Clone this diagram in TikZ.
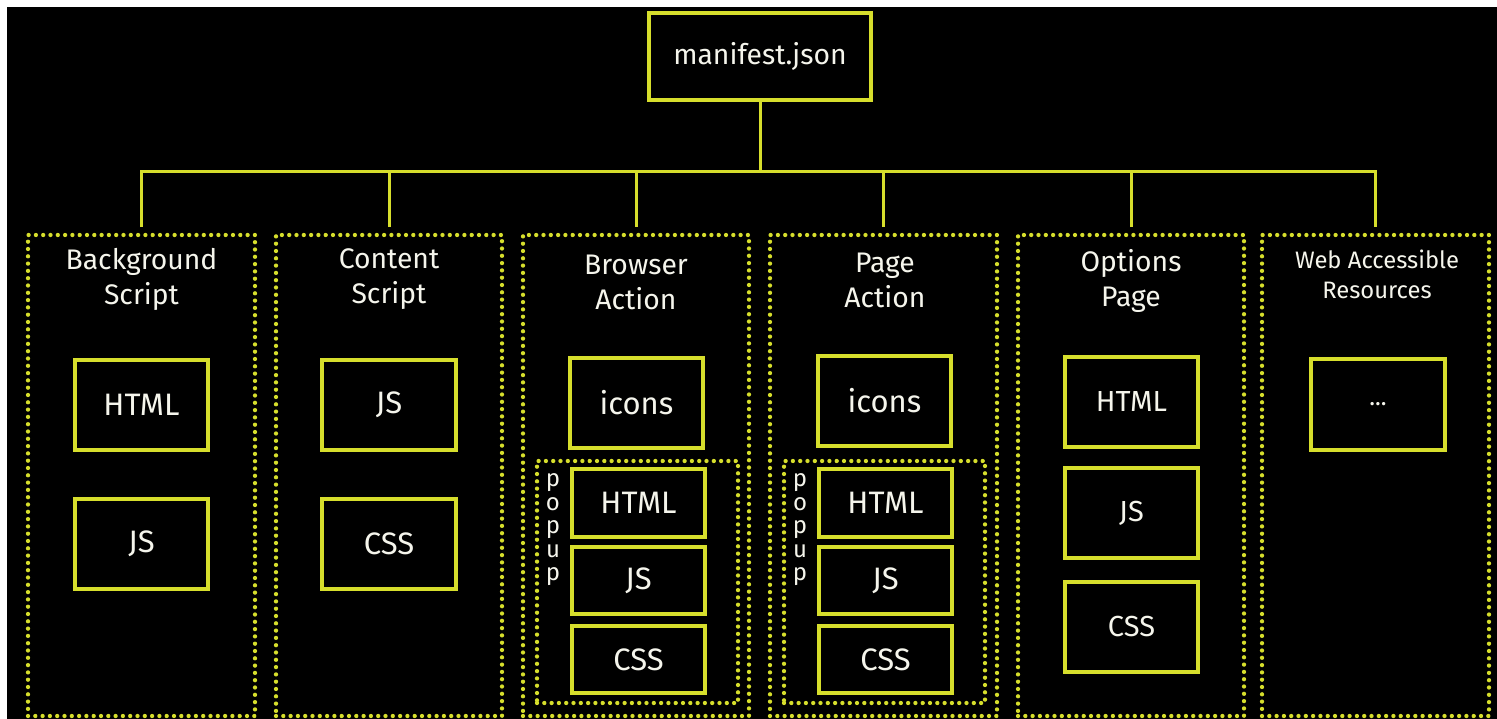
\documentclass[tikz,border=0pt]{standalone}
\usepackage{fontspec}
\setmainfont{Fira Sans}
\definecolor{ylw}{RGB}{214,222,44}
\definecolor{txt}{RGB}{245,245,236}
\begin{document}
\begin{tikzpicture}[x=1pt,y=-1pt,
  solidbox/.style={draw=ylw,line width=4pt,rectangle,inner sep=0pt,text=txt,font=\fontsize{31}{36}\selectfont},
  dotbox/.style={draw=ylw,line width=4.3pt,rectangle,inner sep=0pt,dash pattern=on 0pt off 7.3pt,line cap=round},
  title/.style={text=txt,align=center,font=\fontsize{28.3}{35}\selectfont},
  conn/.style={draw=ylw,line width=3pt}]
\useasboundingbox (0,0) rectangle (1497,719);
\fill[white] (0,0) rectangle (1497,719);
\fill[black] (7,7) rectangle (1497,719);
% manifest
\node[solidbox,minimum width=222pt,minimum height=87pt,font=\fontsize{28.3}{34}\selectfont] (man) at (760,56.5) {manifest.json};
% columns
\node[dotbox,minimum width=227pt,minimum height=481pt] (c1) at (141.5,475.5) {};
\node[dotbox,minimum width=226pt,minimum height=481pt] (c2) at (389,475.5) {};
\node[dotbox,minimum width=226pt,minimum height=481pt] (c3) at (636,475.5) {};
\node[dotbox,minimum width=227pt,minimum height=481pt] (c4) at (883.5,475.5) {};
\node[dotbox,minimum width=226pt,minimum height=481pt] (c5) at (1131,475.5) {};
\node[dotbox,minimum width=227pt,minimum height=481pt] (c6) at (1375.5,475.5) {};
% titles
\node[title] (t1) at (141.5,279) {Background\\Script};
\node[title] (t2) at (389,279) {Content\\Script};
\node[title] (t3) at (636,282) {Browser\\Action};
\node[title] (t4) at (885,280) {Page\\Action};
\node[title] (t5) at (1131,281) {Options\\Page};
\node[title,font=\fontsize{23.8}{30}\selectfont] (t6) at (1377,274) {Web Accessible\\Resources};
% connectors
\coordinate (bus) at (760,172);
\draw[conn] (man.south) -- (bus);
\draw[conn] ([yshift=6pt]c1.north) |- (c6.north |- bus) -- ([yshift=6pt]c6.north);
\draw[conn] (c2.north |- bus) -- ([yshift=6pt]c2.north);
\draw[conn] (c3.north |- bus) -- ([yshift=6pt]c3.north);
\draw[conn] (c4.north |- bus) -- ([yshift=6pt]c4.north);
\draw[conn] (c5.north |- bus) -- ([yshift=6pt]c5.north);
% column 1
\node[solidbox,minimum width=133pt,minimum height=90pt] (b1h) at (141.5,405) {HTML};
\node[solidbox,minimum width=133pt,minimum height=90pt] (b1j) at (141.5,544) {JS};
% column 2
\node[solidbox,minimum width=134pt,minimum height=90pt] (b2j) at (389,405) {JS};
\node[solidbox,minimum width=134pt,minimum height=90pt] (b2c) at (389,544) {CSS};
% column 3
\node[solidbox,minimum width=133pt,minimum height=90pt] (b3i) at (636.5,403) {icons};
\node[dotbox,minimum width=201pt,minimum height=242pt] (p3) at (637.5,582) {};
\node[text=txt,align=center,font=\fontsize{24}{23.5}\selectfont] (p3l) at (553,530) {p\\o\\p\\u\\p};
\node[solidbox,minimum width=133pt,minimum height=68pt] (b3h) at (638.5,502.5) {HTML};
\node[solidbox,minimum width=133pt,minimum height=67pt] (b3j) at (638.5,580.5) {JS};
\node[solidbox,minimum width=133pt,minimum height=67pt] (b3c) at (638.5,659.5) {CSS};
% column 4
\node[solidbox,minimum width=133pt,minimum height=90pt] (b4i) at (884.5,401) {icons};
\node[dotbox,minimum width=201pt,minimum height=242pt] (p4) at (884.5,582) {};
\node[text=txt,align=center,font=\fontsize{24}{23.5}\selectfont] (p4l) at (800,530) {p\\o\\p\\u\\p};
\node[solidbox,minimum width=133pt,minimum height=68pt] (b4h) at (885.5,502.5) {HTML};
\node[solidbox,minimum width=133pt,minimum height=67pt] (b4j) at (885.5,580.5) {JS};
\node[solidbox,minimum width=133pt,minimum height=67pt] (b4c) at (885.5,659.5) {CSS};
% column 5
\node[solidbox,minimum width=133pt,minimum height=90pt,font=\fontsize{29}{34}\selectfont] (b5h) at (1131.5,402) {HTML};
\node[solidbox,minimum width=133pt,minimum height=90pt,font=\fontsize{29}{34}\selectfont] (b5j) at (1131.5,513) {JS};
\node[solidbox,minimum width=133pt,minimum height=90pt,font=\fontsize{29}{34}\selectfont] (b5c) at (1131.5,627) {CSS};
% column 6
\node[solidbox,minimum width=134pt,minimum height=91pt,font=\fontsize{24}{28}\selectfont] (b6) at (1378,404.5) {...};
\end{tikzpicture}
\end{document}
